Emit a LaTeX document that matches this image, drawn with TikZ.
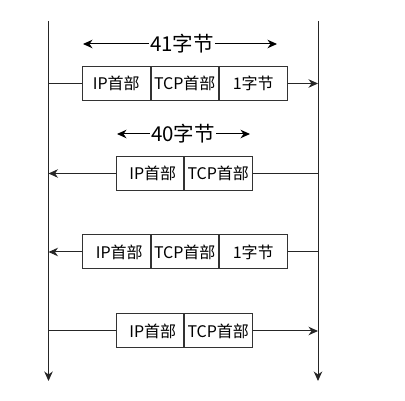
\documentclass[tikz,border=0pt]{standalone}
\usepackage{fontspec}
\setmainfont{Noto Sans CJK SC}
\usetikzlibrary{arrows.meta}
\usetikzlibrary{positioning}
\tikzset {
  % line style
  life/.style = {
    draw = black!85,
    line width = 1pt,
    -{Stealth[length=9.5pt,width=8.5pt,inset=3pt]}
  },
  msg/.style = {
    draw = black!85,
    line width = 1pt
  },
  marr/.style = {
    msg,
    -{Stealth[length=9.5pt,width=8.5pt,inset=3pt]}
  },
  % length marker
  span/.style = {
    draw = black,
    line width = 1pt,
    -{Stealth[length=9.5pt,width=8.5pt,inset=3pt]}
  }
}
\tikzset {
  % segment of a packet
  field/.style = {
    draw = black!80,
    line width = 1pt,
    rectangle,
    minimum width = 67.5pt,
    minimum height = 34pt,
    inner sep = 0,
    font = \fontsize{16}{18}\selectfont
  },
  size/.style = {
    inner sep = 1pt,
    font = \fontsize{20.5}{23}\selectfont
  },
  node distance = 0pt
}
\begin{document}
\begin{tikzpicture}[x=1pt,y=-1pt]
  \useasboundingbox (0,0) rectangle (405,401);

  \coordinate (a-top) at (48.5,21);
  \coordinate (a-end) at (48.5,381);
  \coordinate (b-top) at (318,21);
  \coordinate (b-end) at (318,381);
  \draw[life] (a-top) -- (a-end);
  \draw[life] (b-top) -- (b-end);

  \node[size] (len41) at (182,44) {41字节};
  \coordinate (len41-l) at (83,44);
  \coordinate (len41-r) at (277,44);
  \draw[span] (len41) -- (len41-l);
  \draw[span] (len41) -- (len41-r);

  \node[field] (ip1) at (116.25,83.5) {IP首部};
  \node[field] (tcp1) [right=of ip1] {TCP首部};
  \node[field] (data1) [right=of tcp1] {1字节};
  \coordinate (a1) at (48.5,83.5);
  \coordinate (b1) at (318,83.5);
  \draw[msg] (a1) -- (ip1);
  \draw[marr] (data1) -- (b1);

  \node[size] (len40) at (183,134) {40字节};
  \coordinate (len40-l) at (117,134);
  \coordinate (len40-r) at (250,134);
  \draw[span] (len40) -- (len40-l);
  \draw[span] (len40) -- (len40-r);

  \node[field] (ip2) at (149.75,173.5) {\hspace{6pt}IP首部};
  \node[field] (tcp2) [right=of ip2] {TCP首部};
  \coordinate (a2) at (48.5,173.5);
  \coordinate (b2) at (318,173.5);
  \draw[msg] (b2) -- (tcp2);
  \draw[marr] (ip2) -- (a2);

  \node[field] (ip3) at (116.25,252) {\hspace{6pt}IP首部};
  \node[field] (tcp3) [right=of ip3] {TCP首部};
  \node[field] (data3) [right=of tcp3] {1字节};
  \coordinate (a3) at (48.5,252);
  \coordinate (b3) at (318,252);
  \draw[msg] (b3) -- (data3);
  \draw[marr] (ip3) -- (a3);

  \node[field] (ip4) at (149.75,331) {\hspace{6pt}IP首部};
  \node[field] (tcp4) [right=of ip4] {TCP首部};
  \coordinate (a4) at (48.5,331);
  \coordinate (b4) at (318,331);
  \draw[msg] (a4) -- (ip4);
  \draw[marr] (tcp4) -- (b4);
\end{tikzpicture}
\end{document}
